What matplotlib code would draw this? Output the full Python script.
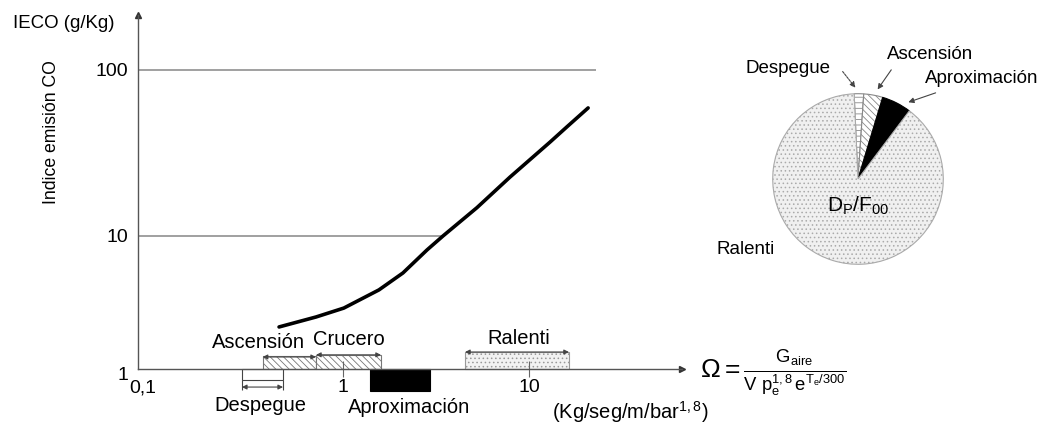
import numpy as np
import matplotlib.pyplot as plt
import matplotlib.transforms as mtransforms

plt.rcParams['font.family'] = ['Liberation Sans', 'DejaVu Sans']
plt.rcParams['mathtext.fontset'] = 'custom'
plt.rcParams['mathtext.rm'] = 'Liberation Sans'
plt.rcParams['mathtext.it'] = 'Liberation Sans:italic'
plt.rcParams['hatch.linewidth'] = 0.6

# CO emission index curve
omega = [0.453, 0.716, 1.01, 1.56, 2.10, 2.83, 3.45, 5.25, 7.9, 13.0, 16.0, 20.8]
ieco = [2.07, 2.46, 2.87, 3.93, 5.27, 7.85, 10.0, 14.8, 22.6, 36.8, 45.4, 59.0]

# operating ranges on the omega axis
despegue = (0.286, 0.476)
ascension = (0.37, 0.716)
crucero = (0.716, 1.6)
aproximacion = (1.40, 2.93)
ralenti = (4.53, 16.4)

# pie: share of each phase
pie_labels = ['Despegue', 'Ascensión', 'Aproximación', 'Ralenti']
pie_values = [1.8, 3.6, 5.6, 89.0]

xticks = [0.1, 1, 10]
xticklabels = ['0,1', '1', '10']
yticks = [1, 10, 100]
yticklabels = ['1', '10', '100']

# the original drawing uses a shorter decade between 1 and 10 than between 10 and 100
k = 133 / 166


def fwd(y):
    L = np.log10(np.clip(y, 1e-9, None))
    return np.where(L < 1, L * k, k + (L - 1))


def inv(u):
    u = np.asarray(u, dtype=float)
    return np.where(u < k, 10 ** (u / k), 10 ** (u - k + 1))


W, H = 1056, 425
fig = plt.figure(figsize=(W / 100, H / 100), dpi=100)
ax = fig.add_axes([138 / W, 1 - 369 / H, (682 - 138) / W, (369 - 15) / H])
ax.set_xscale('log')
ax.set_yscale('function', functions=(fwd, inv))
ax.set_xlim(0.079, 66.5)
ax.set_ylim(1, 214)
for s in ['top', 'right']:
    ax.spines[s].set_visible(False)
for s in ['left', 'bottom']:
    ax.spines[s].set_color('#555555')
    ax.spines[s].set_linewidth(1.0)
ax.minorticks_off()
ax.set_xticks(xticks)
ax.set_xticklabels(xticklabels, fontsize=14)
ax.set_yticks(yticks)
ax.set_yticklabels(yticklabels, fontsize=14)
ax.yaxis.set_minor_locator(plt.NullLocator())
ax.tick_params(axis='y', length=0, pad=7)
ax.tick_params(axis='x', length=11, direction='inout', pad=2, color='#666666', width=0.8)
ax.xaxis.get_major_ticks()[0].tick1line.set_visible(False)

# the drawing puts "0,1" right under the corner and "1" a bit low
lab01 = ax.get_xticklabels()[0]
lab01.set_transform(lab01.get_transform() + mtransforms.ScaledTranslation(-0.14, 0, fig.dpi_scale_trans))
lab1 = ax.get_yticklabels()[0]
lab1.set_transform(lab1.get_transform() + mtransforms.ScaledTranslation(0, -0.04, fig.dpi_scale_trans))

# axis arrow heads
ax.plot(0, 1, marker='^', color='#333333', markersize=4, transform=ax.transAxes, clip_on=False)
ax.plot(1, 0, marker='>', color='#333333', markersize=4, transform=ax.transAxes, clip_on=False)

# reference lines
ax.hlines(100, 0.079, 22.9, color='#999999', lw=1.3)
ax.hlines(10, 0.079, 3.45, color='#999999', lw=1.3)

ax.plot(omega, ieco, color='black', lw=2.6, solid_capstyle='round')

trans = mtransforms.blended_transform_factory(ax.transData, ax.transAxes)

# phase boxes along the axis
ax.axvspan(*ascension, ymin=0, ymax=0.037, facecolor='white', edgecolor='#777777',
           hatch='\\\\\\\\\\', lw=0.8, clip_on=False)
ax.axvspan(*crucero, ymin=0, ymax=0.040, facecolor='white', edgecolor='#777777',
           hatch='\\\\\\\\\\', lw=0.8, clip_on=False)
ax.axvspan(*ralenti, ymin=0, ymax=0.048, facecolor='#f2f2f2', edgecolor='#999999',
           hatch='....', lw=0.8, clip_on=False)
ax.axvspan(*despegue, ymin=-0.031, ymax=0, facecolor='white', edgecolor='#444444',
           lw=0.8, clip_on=False)
ax.axvspan(*aproximacion, ymin=-0.062, ymax=0, facecolor='black', edgecolor='black',
           lw=0.8, clip_on=False)
ax.vlines(despegue, -0.06, -0.031, transform=trans, color='#444444', lw=0.8, clip_on=False)

arrow = dict(arrowstyle='<|-|>', color='#444444', lw=0.8, mutation_scale=7, shrinkA=0, shrinkB=0)
for rng, yy in [(ascension, 0.034), (crucero, 0.040), (ralenti, 0.048), (despegue, -0.051)]:
    ax.annotate('', xy=(rng[0], yy), xytext=(rng[1], yy), xycoords=trans,
                textcoords=trans, arrowprops=arrow, annotation_clip=False)

fs = 14.5
ax.text(0.353, 0.075, 'Ascensión', transform=trans, fontsize=fs, ha='center', va='center')
ax.text(1.08, 0.082, 'Crucero', transform=trans, fontsize=fs, ha='center', va='center')
ax.text(8.8, 0.085, 'Ralenti', transform=trans, fontsize=fs, ha='center', va='center')
ax.text(0.36, -0.104, 'Despegue', transform=trans, fontsize=fs, ha='center', va='center')
ax.text(2.26, -0.11, 'Aproximación', transform=trans, fontsize=fs, ha='center', va='center')

fig.text(552 / W, 1 - 412 / H, r'(Kg/seg/m/bar$^{1,8}$)', fontsize=fs, ha='left', va='center')
fig.text(700 / W, 1 - 373 / H,
         r'$\Omega = \frac{\mathrm{G_{aire}}}{\mathrm{V\ p_e^{1,8}\, e^{T_e/300}}}$',
         fontsize=19, ha='left', va='center')

fig.text(13 / W, 1 - 23 / H, 'IECO (g/Kg)', fontsize=13.4, ha='left', va='center')
fig.text(52 / W, 1 - 132 / H, 'Indice emisión CO', fontsize=12.7, rotation=90,
         ha='center', va='center')

# pie of time per phase
r = 87
pax = fig.add_axes([(858 - r) / W, 1 - (179 + r) / H, 2 * r / W, 2 * r / H])
wedges, _ = pax.pie(pie_values, startangle=92.6, counterclock=False, radius=1,
                    wedgeprops=dict(linewidth=0.8))
styles = [('white', '#888888', '---'), ('white', '#888888', '\\\\\\\\\\'),
          ('black', 'black', None), ('#f0f0f0', '#aaaaaa', '....')]
for w, (fc, ec, h) in zip(wedges, styles):
    w.set_facecolor(fc)
    w.set_edgecolor(ec)
    if h:
        w.set_hatch(h)
pax.set_xlim(-1.02, 1.02)
pax.set_ylim(-1.02, 1.02)

pfs = 13.5
pax.text(-0.82, 1.29, pie_labels[0], fontsize=pfs, ha='center', va='center')
pax.text(0.85, 1.46, pie_labels[1], fontsize=pfs, ha='center', va='center')
pax.text(1.45, 1.18, pie_labels[2], fontsize=pfs, ha='center', va='center')
pax.text(-1.32, -0.83, pie_labels[3], fontsize=pfs, ha='center', va='center')
pax.text(0, -0.32, r'D$_\mathrm{P}$/F$_\mathrm{00}$', fontsize=15, ha='center', va='center')

parrow = dict(arrowstyle='-|>', color='#444444', lw=0.8, mutation_scale=8, shrinkA=0, shrinkB=0)
for start, end, ls in [((-0.18, 1.26), (-0.03, 1.07), (0, (2, 1))),
                       ((0.39, 1.28), (0.23, 1.05), '-'),
                       ((0.91, 1.01), (0.59, 0.90), '-')]:
    pax.annotate('', xy=end, xytext=start, arrowprops=dict(parrow, linestyle=ls),
                 annotation_clip=False)

fig.savefig('out.png', dpi=100)
